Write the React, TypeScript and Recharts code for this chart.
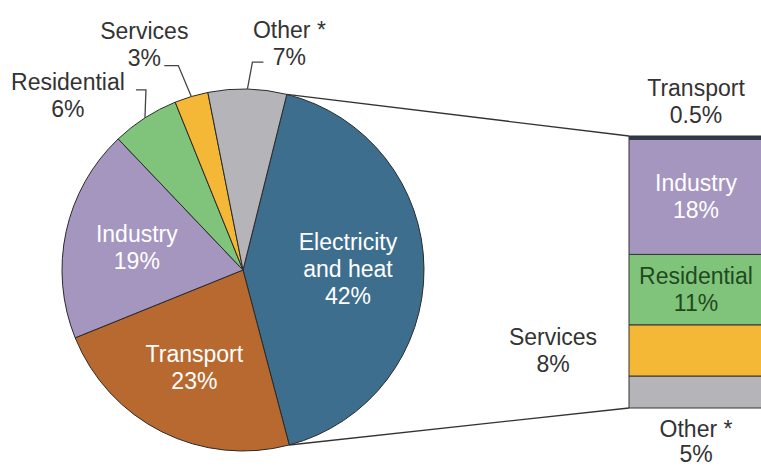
import { PieChart, Pie, Cell, BarChart, Bar, XAxis, YAxis, LabelList } from 'recharts'

// global CO2 emissions by sector, with the electricity & heat slice split out
const sectorNames = ['Electricity\nand heat', 'Transport', 'Industry', 'Residential', 'Services', 'Other *']
const sectorShares = [42, 23, 19, 6, 3, 7]
const sectorColors = ['#3e6e8d', '#b8692f', '#a596c0', '#80c47b', '#f4b736', '#b5b5b9']

const elecKeys = ['transport', 'industry', 'residential', 'services', 'other']
const elecNames = ['Transport', 'Industry', 'Residential', 'Services', 'Other *']
const elecShares = [0.5, 18, 11, 8, 5]
const elecColors = ['#2c3c58', '#a596c0', '#80c47b', '#f4b736', '#b5b5b9']

const W = 761
const H = 468
const FONT = '"Liberation Sans", Arial, sans-serif'
const FS = 23
const LINE = 27

// layout
const PIE_CX = 243
const PIE_CY = 270
const PIE_R = 181
const START = 76
const BAR_CHART_LEFT = 480
const BAR_MARGIN = { top: 136, right: 7, bottom: 60, left: 149 }
const BAR_LEFT = BAR_CHART_LEFT + BAR_MARGIN.left
const BAR_TOP = BAR_MARGIN.top
const BAR_BOTTOM = H - BAR_MARGIN.bottom

// callouts for the small slices: elbow/end offsets from the slice's edge point, text centre
const callouts: Record<string, { elbow: [number, number]; end: [number, number]; text: [number, number] }> = {
  Residential: { elbow: [1, -28], end: [-9, -28], text: [-77, -36] },
  Services: { elbow: [-13, -31], end: [-27, -31], text: [-47, -66] },
  'Other *': { elbow: [5, -27], end: [16, -27], text: [42, -59] },
}
const insideRadius = [0.58, 0.6, 0.6]

const pieData = sectorNames.map((name, i) => ({ name, value: sectorShares[i] }))
const total = elecShares.reduce((a, b) => a + b, 0)
const barRow: Record<string, number | string> = { name: 'Electricity and heat' }
elecKeys.forEach((k, i) => (barRow[k] = elecShares[i]))

const RAD = Math.PI / 180
const polar = (angle: number, r: number) => [PIE_CX + r * Math.cos(-angle * RAD), PIE_CY + r * Math.sin(-angle * RAD)]

function Lines({ x, y, lines, fill, gap = LINE }: { x: number; y: number; lines: string[]; fill: string; gap?: number }) {
  return (
    <text x={x} y={y} fill={fill} fontFamily={FONT} fontSize={FS} textAnchor="middle">
      {lines.map((l, i) => (
        <tspan key={i} x={x} y={y + i * gap} dominantBaseline="central">
          {l}
        </tspan>
      ))}
    </text>
  )
}

// eslint-disable-next-line @typescript-eslint/no-explicit-any
function renderPieLabel(props: any) {
  const { midAngle, index } = props
  const name: string = sectorNames[index]
  const lines = [...name.split('\n'), `${sectorShares[index]}%`]
  const c = callouts[name]
  if (!c) {
    const [x, y] = polar(midAngle, PIE_R * insideRadius[index])
    return <Lines x={x} y={y - ((lines.length - 1) * LINE) / 2} lines={lines} fill="#fff" />
  }
  const [ex, ey] = polar(midAngle, PIE_R)
  const pts = [
    [ex, ey],
    [ex + c.elbow[0], ey + c.elbow[1]],
    [ex + c.end[0], ey + c.end[1]],
  ]
  return (
    <g>
      <polyline points={pts.map((p) => p.join(',')).join(' ')} fill="none" stroke="#444" strokeWidth={1.3} />
      <Lines x={ex + c.text[0]} y={ey + c.text[1]} lines={lines} fill="#333" />
    </g>
  )
}

const barLabelPlacement = ['above', 'inside', 'inside', 'left', 'below']
const barLabelColor = ['#333', '#fff', '#1f4a1f', '#333', '#333']

function makeBarLabel(i: number) {
  // eslint-disable-next-line @typescript-eslint/no-explicit-any
  return (props: any) => {
    const x = Number(props.x)
    const y = Number(props.y)
    const w = Number(props.width)
    const h = Number(props.height)
    const lines = [elecNames[i], `${elecShares[i]}%`]
    const place = barLabelPlacement[i]
    let top = y + h / 2 - LINE / 2
    let lx = x + w / 2
    let gap = LINE
    if (place === 'above') top = y - 48
    if (place === 'below') {
      top = y + h + 21
      gap = 25
    }
    if (place === 'left') lx = x - 76
    return <Lines x={lx} y={top} lines={lines} fill={barLabelColor[i]} gap={gap} />
  }
}

export default function App() {
  const elecEnd = START - (sectorShares[0] / 100) * 360
  const [x1, y1] = polar(START, PIE_R)
  const [x2, y2] = polar(elecEnd, PIE_R)

  return (
    <div style={{ position: 'absolute', left: 0, top: 0, width: W, height: H, overflow: 'hidden', background: '#fff' }}>
      <div style={{ position: 'absolute', left: 0, top: 0 }}>
        <PieChart width={W} height={H} margin={{ top: 0, right: 0, bottom: 0, left: 0 }}>
          <Pie
            data={pieData}
            dataKey="value"
            cx={PIE_CX}
            cy={PIE_CY}
            outerRadius={PIE_R}
            startAngle={START}
            endAngle={START - 360}
            stroke="#2a2a2a"
            strokeWidth={1}
            label={renderPieLabel}
            labelLine={false}
            isAnimationActive={false}
          >
            {pieData.map((d, i) => (
              <Cell key={d.name} fill={sectorColors[i]} />
            ))}
          </Pie>
        </PieChart>
      </div>
      <div style={{ position: 'absolute', left: BAR_CHART_LEFT, top: 0 }}>
        <BarChart width={290} height={H} data={[barRow]} margin={BAR_MARGIN} barCategoryGap={0} barGap={0}>
          <XAxis dataKey="name" hide />
          <YAxis hide domain={[0, total]} />
          {[...elecKeys.keys()].reverse().map((i) => (
            <Bar
              key={elecKeys[i]}
              dataKey={elecKeys[i]}
              stackId="e"
              fill={elecColors[i]}
              stroke="#333"
              strokeWidth={1}
              isAnimationActive={false}
            >
              <LabelList dataKey={elecKeys[i]} content={makeBarLabel(i)} />
            </Bar>
          ))}
        </BarChart>
      </div>
      <svg width={W} height={H} style={{ position: 'absolute', left: 0, top: 0, pointerEvents: 'none' }}>
        <line x1={x1} y1={y1} x2={BAR_LEFT} y2={BAR_TOP} stroke="#333" strokeWidth={1.3} />
        <line x1={x2} y1={y2} x2={BAR_LEFT} y2={BAR_BOTTOM} stroke="#333" strokeWidth={1.3} />
      </svg>
    </div>
  )
}
